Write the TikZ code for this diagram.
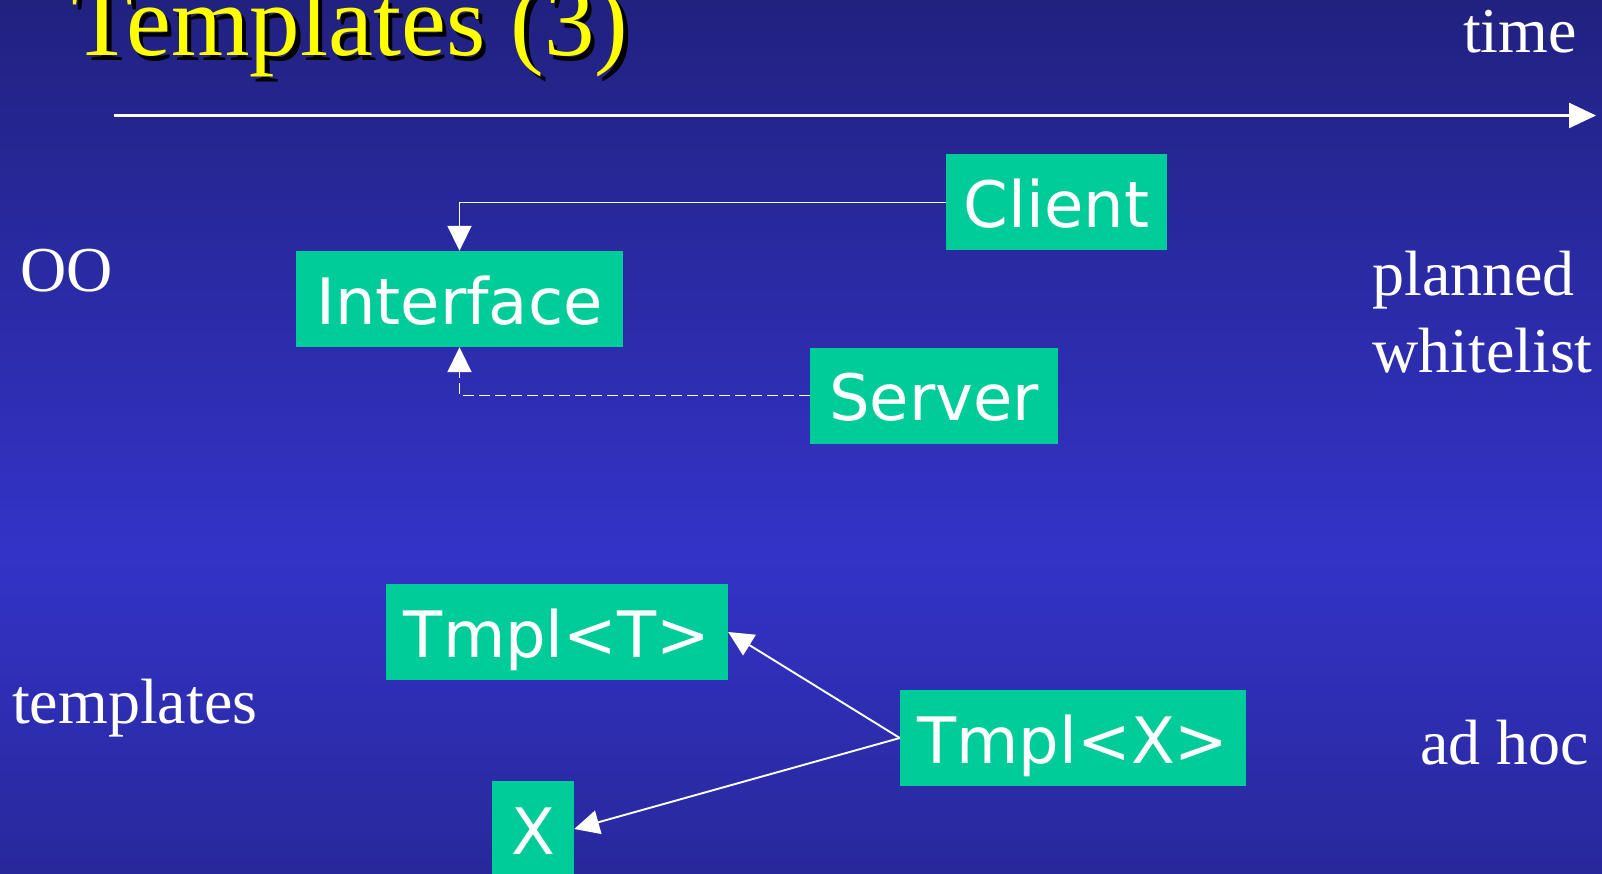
\documentclass[tikz,border=0pt]{standalone}
\usepackage{fontspec}
\setmainfont{Liberation Serif}
\newfontfamily\boxfont{DejaVu Sans}
\usetikzlibrary{arrows.meta}
\definecolor{bgtop}{RGB}{33,33,128}
\definecolor{bgmid}{RGB}{51,51,200}
\definecolor{bgbot}{RGB}{40,40,155}
\definecolor{boxgreen}{RGB}{0,204,153}
\definecolor{titleyellow}{RGB}{255,255,0}
\tikzset{
  umlbox/.style={fill=boxgreen, draw=none, inner sep=0pt, text=white,
    font=\boxfont\fontsize{64}{70}\selectfont, text height=50pt, text depth=0pt,
    minimum height=96pt},
  sidelabel/.style={inner sep=0pt, text=white, font=\fontsize{64}{77}\selectfont},
  titlefont/.style={inner sep=0pt, font=\fontsize{101}{110}\selectfont},
  conn/.style={draw=white, line width=1.9pt, -{Triangle[length=25pt,width=24pt]}},
  dashconn/.style={conn, dash pattern=on 11pt off 5pt},
}
\begin{document}
\begin{tikzpicture}[x=1pt,y=-1pt]
\useasboundingbox (0,0) rectangle (1602,874);
\shade[top color=bgtop, bottom color=bgmid] (0,0) rectangle (1602,550);
\shade[top color=bgmid, bottom color=bgbot] (0,550) rectangle (1602,874);

% title with shadow
\node[titlefont, anchor=base west, text=black] (titleshadow) at (76,61) {Templates (3)};
\node[titlefont, anchor=base west, text=titleyellow] (title) at (71.5,56) {Templates (3)};

% time axis
\coordinate (ts) at (114,115.5);
\coordinate (te) at (1596,115.5);
\draw[draw=white, line width=2.4pt, -{Triangle[length=27pt,width=25pt]}] (ts) -- (te);
\node[sidelabel, anchor=base east] (time) at (1577,53) {time};

% side labels
\node[sidelabel, anchor=base west] (oo) at (20,291) {OO};
\node[sidelabel, anchor=base west] (planned) at (1372,295) {planned};
\node[sidelabel, anchor=base west] (whitelist) at (1372,372) {whitelist};
\node[sidelabel, anchor=base west] (templates) at (12,723) {templates};
\node[sidelabel, anchor=base west] (adhoc) at (1420,764) {ad hoc};

% boxes
\node[umlbox, minimum width=221pt] (client) at (1056.5,202.5) {Client};
\node[umlbox, minimum width=327pt] (interface) at (459.5,299) {Interface};
\node[umlbox, minimum width=248pt] (server) at (934,395.5) {Server};
\node[umlbox, minimum width=342pt] (tmplT) at (557,632) {Tmpl<T>};
\node[umlbox, minimum width=346pt] (tmplX) at (1073,738) {Tmpl<X>};
\node[umlbox, minimum width=82pt] (x) at (533,829) {X};

% connectors
\draw[conn] (client.west) -| (interface.north);
\draw[dashconn] (server.west) -| (interface.south);
\draw[conn] (tmplX.west) -- (tmplT.east);
\draw[conn] (tmplX.west) -- (x.east);
\end{tikzpicture}
\end{document}
